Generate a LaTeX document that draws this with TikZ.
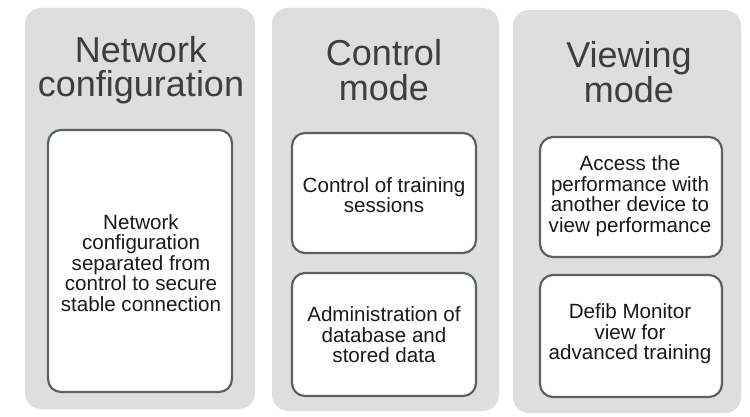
\documentclass[tikz,border=0pt]{standalone}
\usepackage{fontspec}
\setmainfont{Liberation Sans}
\begin{document}
\begin{tikzpicture}[x=1pt,y=-1pt,
  panel/.style={fill=panelgray, rounded corners=16pt, draw=none},
  itembox/.style={draw=boxborder, line width=2.2pt, fill=white, rounded corners=13pt},
  titletext/.style={text=titlegray, font=\fontsize{36}{34.5}\selectfont, align=center, inner sep=0pt},
  itemtext/.style={text=black!90, font=\fontsize{20.6}{20.6}\selectfont, align=center, inner sep=0pt}]
\definecolor{panelgray}{HTML}{DEDEDE}
\definecolor{boxborder}{HTML}{5A6262}
\definecolor{titlegray}{HTML}{3E3E3E}
\useasboundingbox[fill=white] (0,0) rectangle (750,417);
% panels
\path[panel] (25,8) rectangle (255,409);
\path[panel] (272,8) rectangle (499,411);
\path[panel] (513,10) rectangle (741,413);
% titles
\node[titletext] (t1) at (141,70) {Network\\configuration};
\node[titletext] (t2) at (384,70) {Control\\mode};
\node[titletext] (t3) at (629,72) {Viewing\\mode};
% item boxes
\draw[itembox] (48,130) rectangle (232,392);
\node[itemtext] (a1) at (141,263) {Network\\configuration\\separated from\\control to secure\\stable connection};
\draw[itembox] (292,133) rectangle (476,253);
\node[itemtext] (b1) at (384,195) {Control of training\\sessions};
\draw[itembox] (292,273) rectangle (476,396);
\node[itemtext] (b2) at (384,335) {Administration of\\database and\\stored data};
\draw[itembox] (540,137) rectangle (722,257);
\node[itemtext] (c1) at (630,196) {Access the\\performance with\\another device to\\view performance};
\draw[itembox] (540,275) rectangle (722,397);
\node[itemtext] (c2) at (630,334) {Defib Monitor\\view for\\advanced training};
\end{tikzpicture}
\end{document}
